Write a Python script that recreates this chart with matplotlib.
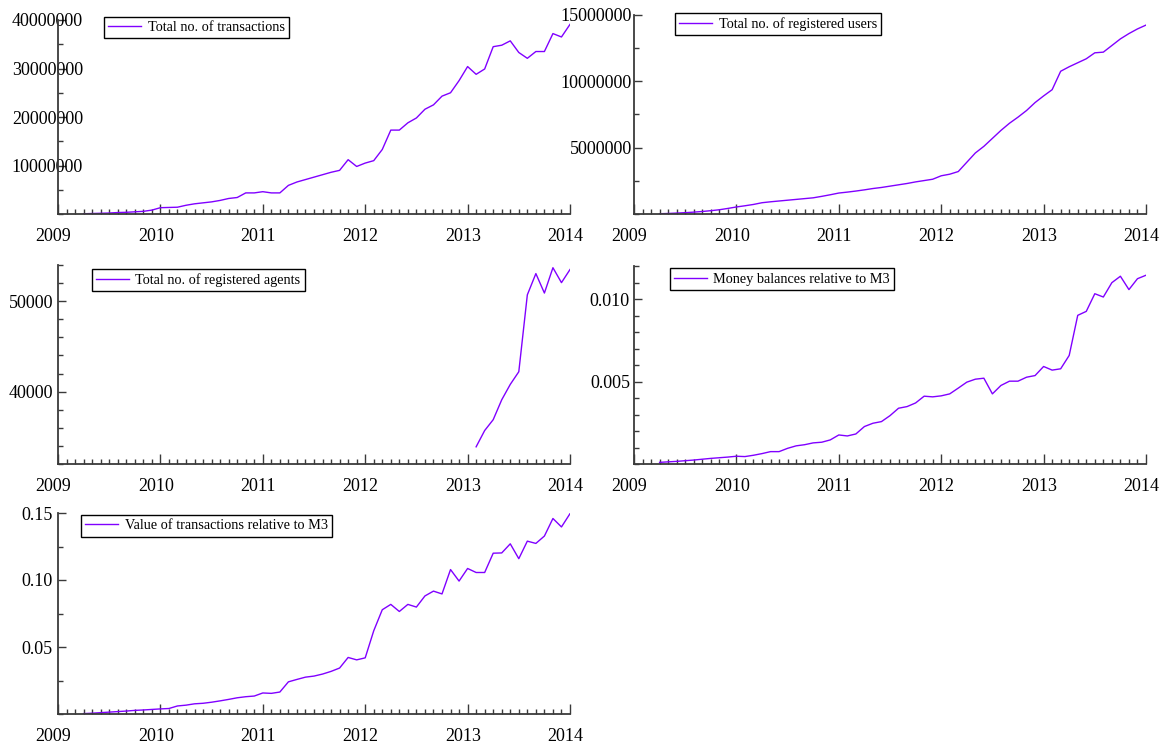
import numpy as np
import pandas as pd
import matplotlib
matplotlib.use("Agg")
import matplotlib.pyplot as plt
from matplotlib.ticker import MultipleLocator, FixedLocator, FixedFormatter
import matplotlib.transforms as mtransforms

plt.rcParams['font.family'] = ['Liberation Serif', 'DejaVu Serif']

# ---------------- data (monthly, Apr 2009 - Jan 2014) ----------------
start_month = "2009-04"
n_months = 58

transactions = [0.05e6, 0.1e6, 0.15e6, 0.2e6, 0.3e6, 0.35e6, 0.45e6, 0.55e6, 0.8e6,
                1.3e6, 1.35e6, 1.4e6, 1.8e6, 2.1e6, 2.3e6, 2.5e6, 2.8e6, 3.2e6, 3.4e6, 4.35e6, 4.35e6,
                4.6e6, 4.35e6, 4.35e6, 5.9e6, 6.6e6, 7.1e6, 7.6e6, 8.1e6, 8.6e6, 9.0e6, 11.2e6, 9.8e6,
                10.5e6, 11.0e6, 13.3e6, 17.3e6, 17.3e6, 18.8e6, 19.8e6, 21.6e6, 22.5e6, 24.3e6, 25.0e6, 27.5e6,
                30.4e6, 28.8e6, 29.9e6, 34.5e6, 34.8e6, 35.7e6, 33.3e6, 32.1e6, 33.5e6, 33.5e6, 37.2e6, 36.5e6,
                39.1e6]

users = [0.02e6, 0.04e6, 0.07e6, 0.1e6, 0.14e6, 0.19e6, 0.25e6, 0.32e6, 0.42e6,
         0.53e6, 0.62e6, 0.72e6, 0.85e6, 0.92e6, 0.98e6, 1.04e6, 1.1e6, 1.16e6, 1.22e6, 1.33e6, 1.45e6,
         1.58e6, 1.65e6, 1.73e6, 1.82e6, 1.92e6, 2.0e6, 2.1e6, 2.2e6, 2.3e6, 2.42e6, 2.52e6, 2.62e6,
         2.88e6, 3.0e6, 3.2e6, 3.9e6, 4.6e6, 5.1e6, 5.7e6, 6.3e6, 6.84e6, 7.3e6, 7.8e6, 8.4e6,
         8.9e6, 9.37e6, 10.76e6, 11.1e6, 11.4e6, 11.7e6, 12.15e6, 12.2e6, 12.7e6, 13.2e6, 13.6e6, 13.95e6,
         14.24e6]

agents_start = "2013-02"
agents = [33900, 35700, 36900, 39100, 40800, 42200, 50700, 53050, 50900, 53700, 52050, 53500]

money_m3 = [0.00010, 0.00013, 0.00016, 0.00020, 0.00024, 0.00029, 0.00034, 0.00038, 0.00042,
            0.00047, 0.00045, 0.00053, 0.00063, 0.00075, 0.00075, 0.00095, 0.00110, 0.00117, 0.00128, 0.00132, 0.00146,
            0.00176, 0.00170, 0.00182, 0.00227, 0.00247, 0.00257, 0.00293, 0.00338, 0.00348, 0.00370, 0.00411, 0.00407,
            0.00413, 0.00425, 0.00460, 0.00496, 0.00514, 0.00520, 0.00425, 0.00476, 0.00502, 0.00502, 0.00526, 0.00536,
            0.00591, 0.00569, 0.00577, 0.00658, 0.00901, 0.00925, 0.01032, 0.01012, 0.01099, 0.01138, 0.01057, 0.01123,
            0.01144]

value_m3 = [0.0003, 0.0006, 0.0010, 0.0014, 0.0018, 0.0022, 0.0027, 0.0030, 0.0034,
            0.0038, 0.0041, 0.0060, 0.0066, 0.0076, 0.0080, 0.0088, 0.0098, 0.0109, 0.0121, 0.0129, 0.0134,
            0.0157, 0.0154, 0.0164, 0.0240, 0.0258, 0.0275, 0.0283, 0.0298, 0.0318, 0.0343, 0.0422, 0.0404,
            0.0419, 0.0621, 0.0778, 0.0818, 0.0765, 0.0818, 0.0798, 0.0881, 0.0917, 0.0896, 0.1078, 0.0992,
            0.1086, 0.1056, 0.1056, 0.1200, 0.1202, 0.1270, 0.1159, 0.1290, 0.1273, 0.1328, 0.1459, 0.1396,
            0.1495]

labels = ["Total no. of transactions", "Total no. of registered users",
          "Total no. of registered agents", "Money balances relative to M3",
          "Value of transactions relative to M3"]

year_ticks = [2009, 2010, 2011, 2012, 2013, 2014]


def dec_year(idx):
    return idx.year + (idx.month - 1) / 12.0


t_all = dec_year(pd.date_range(start_month, periods=n_months, freq="MS"))
t_ag = dec_year(pd.date_range(agents_start, periods=len(agents), freq="MS"))

# ---------------- figure ----------------
W, H = 1168, 746
fig = plt.figure(figsize=(W / 100, H / 100), dpi=100)

LINE = "#8000ff"
AXC = "#3a3a3a"


def add_ax(left, top, right, bottom):
    return fig.add_axes([left / W, 1 - bottom / H, (right - left) / W, (bottom - top) / H])


specs = [
    # (pos, x, y, ylim, majors, fmt, minor, legend anchor, ylabel pad px)
    ((58, 20, 570, 214), t_all, transactions, (0, 40e6), [10e6, 20e6, 30e6, 40e6],
     ["10000000", "20000000", "30000000", "40000000"], 5e6, (0.090, 1.016), -25),
    ((634, 15, 1146, 214), t_all, users, (0, 15e6), [5e6, 10e6, 15e6],
     ["5000000", "10000000", "15000000"], 2.5e6, (0.080, 1.012), 2),
    ((58, 265, 570, 464), t_ag, agents, (32000, 54000), [40000, 50000],
     ["40000", "50000"], 2000, (0.066, 0.980), 5),
    ((634, 266, 1146, 464), t_all, money_m3, (0, 0.012), [0.005, 0.010],
     ["0.005", "0.010"], 0.001, (0.070, 0.988), 4),
    ((58, 513, 570, 714), t_all, value_m3, (0, 0.15), [0.05, 0.10, 0.15],
     ["0.05", "0.10", "0.15"], 0.025, (0.045, 0.990), 5),
]

offset = mtransforms.ScaledTranslation(-4.5 / 100, 0, fig.dpi_scale_trans)

for k, (pos, x, y, ylim, majors, fmts, minor, anchor, ypad) in enumerate(specs):
    ax = add_ax(*pos)
    ax.plot(x, y, color=LINE, lw=1.0, label=labels[k])
    ax.set_xlim(2009, 2014)
    ax.set_ylim(*ylim)
    for s in ("top", "right"):
        ax.spines[s].set_visible(False)
    for s in ("left", "bottom"):
        ax.spines[s].set_color(AXC)
        ax.spines[s].set_linewidth(1.3)
    ax.xaxis.set_major_locator(FixedLocator(year_ticks))
    ax.xaxis.set_major_formatter(FixedFormatter([str(v) for v in year_ticks]))
    ax.xaxis.set_minor_locator(MultipleLocator(1 / 12))
    ax.yaxis.set_major_locator(FixedLocator(majors))
    ax.yaxis.set_major_formatter(FixedFormatter(fmts))
    ax.yaxis.set_minor_locator(MultipleLocator(minor))
    ax.tick_params(axis="both", which="both", direction="in", color=AXC, width=1.0)
    ax.tick_params(axis="x", which="major", length=7.5, pad=10, labelsize=13)
    ax.tick_params(axis="x", which="minor", length=3.8)
    ax.tick_params(axis="y", which="major", length=6, pad=ypad * 0.72, labelsize=13)
    ax.tick_params(axis="y", which="minor", length=3.8)
    for lab in ax.xaxis.get_majorticklabels():
        lab.set_transform(lab.get_transform() + offset)
    leg = ax.legend(loc="upper left", bbox_to_anchor=anchor, frameon=True, fancybox=False,
                    edgecolor="black", framealpha=1, fontsize=10.3, borderaxespad=0,
                    borderpad=0.3, handlelength=2.3, handletextpad=0.45)
    leg.get_frame().set_linewidth(1.0)

fig.savefig("out.png", dpi=100)
